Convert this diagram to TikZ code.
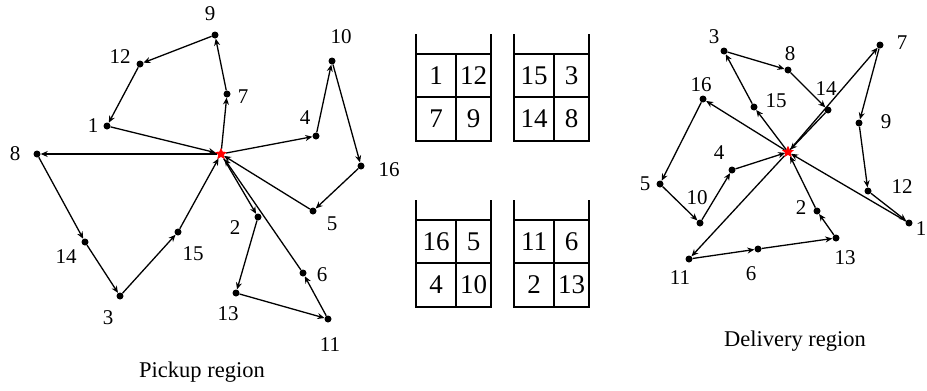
\documentclass[tikz,border=0pt]{standalone}
\usepackage{fontspec}
\setmainfont{Liberation Serif}
\usetikzlibrary{arrows.meta,shapes.geometric}
\begin{document}
\begin{tikzpicture}[x=1pt,y=-1pt,
 pt/.style={circle,fill=black,inner sep=0pt,minimum size=7pt},
 dep/.style={star,star points=5,star point ratio=2.2,fill=red,inner sep=0pt,minimum size=12pt},
 lab/.style={font=\fontsize{21}{21}\selectfont,inner sep=0pt},
 captxt/.style={font=\fontsize{22.5}{22.5}\selectfont,inner sep=0pt},
 bintxt/.style={font=\fontsize{27}{27}\selectfont,inner sep=0pt},
 conn/.style={line width=1.3pt,-{Stealth[length=7pt,width=6pt]}},
 wall/.style={line width=1.6pt}]
\useasboundingbox (0,0) rectangle (927,391);

% ---------- Pickup region ----------
\node[dep] (PD) at (221,154) {};
\node[pt] (a9) at (215,35) {};   \node[lab] (la9) at (210,14) {9};
\node[pt] (a12) at (140,64) {};  \node[lab] (la12) at (120,57) {12};
\node[pt] (a7) at (227,94) {};   \node[lab] (la7) at (243,97) {7};
\node[pt] (a1) at (107,126) {};  \node[lab] (la1) at (93,126) {1};
\node[pt] (a4) at (316,136) {};  \node[lab] (la4) at (305,118) {4};
\node[pt] (a10) at (332,61) {};  \node[lab] (la10) at (341,37) {10};
\node[pt] (a16) at (361,166) {}; \node[lab] (la16) at (389,170) {16};
\node[pt] (a8) at (37,154) {};   \node[lab] (la8) at (15,154) {8};
\node[pt] (a14) at (85,242) {};  \node[lab] (la14) at (66,257) {14};
\node[pt] (a3) at (120,296) {};  \node[lab] (la3) at (108,318) {3};
\node[pt] (a15) at (178,232) {}; \node[lab] (la15) at (193,254) {15};
\node[pt] (a5) at (313,211) {};  \node[lab] (la5) at (332,224) {5};
\node[pt] (a2) at (258,217) {};  \node[lab] (la2) at (235,228) {2};
\node[pt] (a6) at (303,273) {};  \node[lab] (la6) at (322,275) {6};
\node[pt] (a13) at (236,293) {}; \node[lab] (la13) at (228,314) {13};
\node[pt] (a11) at (328,319) {}; \node[lab] (la11) at (330,345) {11};
\node[captxt] (capP) at (202,372) {Pickup region};

\draw[conn] (PD) -- (a7); \draw[conn] (a7) -- (a9); \draw[conn] (a9) -- (a12);
\draw[conn] (a12) -- (a1); \draw[conn] (a1) -- (PD);
\draw[conn] (PD) -- (a8); \draw[conn] (a8) -- (a14); \draw[conn] (a14) -- (a3);
\draw[conn] (a3) -- (a15); \draw[conn] (a15) -- (PD);
\draw[conn] (PD) -- (a4); \draw[conn] (a4) -- (a10); \draw[conn] (a10) -- (a16);
\draw[conn] (a16) -- (a5); \draw[conn] (a5) -- (PD);
\draw[conn] (PD) -- (a2); \draw[conn] (a2) -- (a13); \draw[conn] (a13) -- (a11);
\draw[conn] (a11) -- (a6); \draw[conn] (a6) -- (PD);
\node[dep] (PDtop) at (221,154) {};

% ---------- Bins ----------
\draw[wall] (416,34) -- (416,141) -- (491,141) -- (491,34);
\draw[wall] (416,54) -- (491,54) (416,97) -- (491,97) (456,54) -- (456,141);
\node[bintxt] (b1a) at (436,76) {1};  \node[bintxt] (b1b) at (473.5,76) {12};
\node[bintxt] (b1c) at (436,119) {7}; \node[bintxt] (b1d) at (473.5,119) {9};

\draw[wall] (514,34) -- (514,141) -- (589,141) -- (589,34);
\draw[wall] (514,54) -- (589,54) (514,97) -- (589,97) (554,54) -- (554,141);
\node[bintxt] (b2a) at (534,76) {15};  \node[bintxt] (b2b) at (571.5,76) {3};
\node[bintxt] (b2c) at (534,119) {14}; \node[bintxt] (b2d) at (571.5,119) {8};

\draw[wall] (416,200) -- (416,307) -- (491,307) -- (491,200);
\draw[wall] (416,220) -- (491,220) (416,263) -- (491,263) (456,220) -- (456,307);
\node[bintxt] (b3a) at (436,242) {16};  \node[bintxt] (b3b) at (473.5,242) {5};
\node[bintxt] (b3c) at (436,285) {4}; \node[bintxt] (b3d) at (473.5,285) {10};

\draw[wall] (514,200) -- (514,307) -- (589,307) -- (589,200);
\draw[wall] (514,220) -- (589,220) (514,263) -- (589,263) (554,220) -- (554,307);
\node[bintxt] (b4a) at (534,242) {11};  \node[bintxt] (b4b) at (571.5,242) {6};
\node[bintxt] (b4c) at (534,285) {2}; \node[bintxt] (b4d) at (571.5,285) {13};

% ---------- Delivery region ----------
\node[dep] (DD) at (788,152) {};
\node[pt] (d3) at (724,51) {};   \node[lab] (ld3) at (714,37) {3};
\node[pt] (d8) at (788,70) {};   \node[lab] (ld8) at (790,54) {8};
\node[pt] (d14) at (828,110) {}; \node[lab] (ld14) at (826,89) {14};
\node[pt] (d7) at (880,45) {};   \node[lab] (ld7) at (902,43) {7};
\node[pt] (d16) at (703,99) {};  \node[lab] (ld16) at (701,85) {16};
\node[pt] (d15) at (754,107) {}; \node[lab] (ld15) at (776,101) {15};
\node[pt] (d9) at (859,123) {};  \node[lab] (ld9) at (886,122) {9};
\node[pt] (d4) at (732,170) {};  \node[lab] (ld4) at (719,153) {4};
\node[pt] (d5) at (660,184) {};  \node[lab] (ld5) at (645,184) {5};
\node[pt] (d10) at (700,223) {}; \node[lab] (ld10) at (697,198) {10};
\node[pt] (d12) at (868,191) {}; \node[lab] (ld12) at (902,187) {12};
\node[pt] (d1) at (909,223) {};  \node[lab] (ld1) at (921,229) {1};
\node[pt] (d2) at (817,211) {};  \node[lab] (ld2) at (801,208) {2};
\node[pt] (d13) at (836,238) {}; \node[lab] (ld13) at (845,258) {13};
\node[pt] (d6) at (758,249) {};  \node[lab] (ld6) at (751,274) {6};
\node[pt] (d11) at (689,259) {}; \node[lab] (ld11) at (680,278) {11};
\node[captxt] (capD) at (795,341) {Delivery region};

\draw[conn] (DD) -- (d15); \draw[conn] (d15) -- (d3); \draw[conn] (d3) -- (d8);
\draw[conn] (d8) -- (d14); \draw[conn] (d14) -- (DD);
\draw[conn] (DD) -- (d7); \draw[conn] (d7) -- (d9); \draw[conn] (d9) -- (d12);
\draw[conn] (d12) -- (d1); \draw[conn] (d1) -- (DD);
\draw[conn] (DD) -- (d16); \draw[conn] (d16) -- (d5); \draw[conn] (d5) -- (d10);
\draw[conn] (d10) -- (d4); \draw[conn] (d4) -- (DD);
\draw[conn] (DD) -- (d11); \draw[conn] (d11) -- (d6); \draw[conn] (d6) -- (d13);
\draw[conn] (d13) -- (d2); \draw[conn] (d2) -- (DD);
\node[dep] (DDtop) at (788,152) {};
\end{tikzpicture}
\end{document}
